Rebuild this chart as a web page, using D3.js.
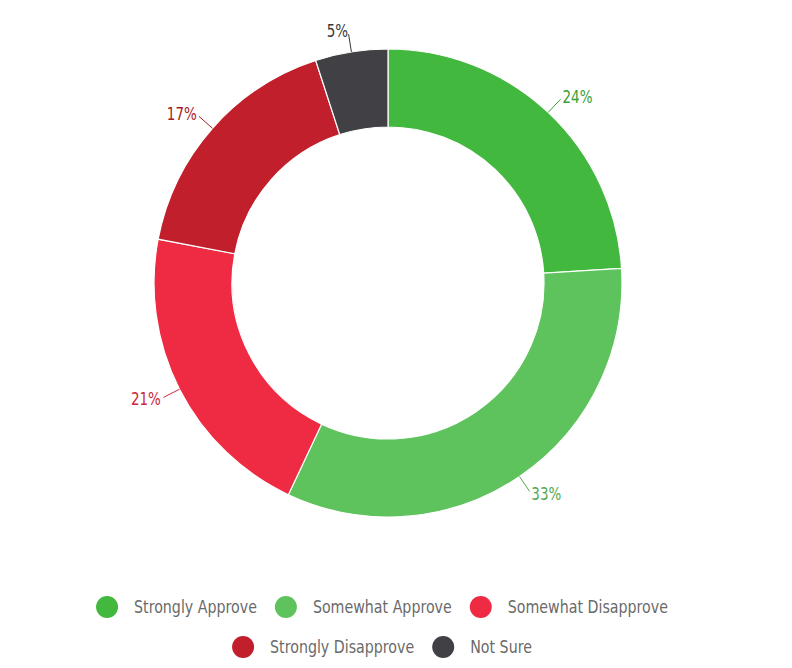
<!DOCTYPE html>
<html>
<head>
<meta charset="utf-8">
<script src="https://cdn.jsdelivr.net/npm/d3@7"></script>
<style>
  body { margin: 0; background: #fff; }
  text { font-family: "DejaVu Sans Condensed", "Liberation Sans", sans-serif; }
</style>
</head>
<body>
<div id="chart"></div>
<script>
// data
var categories = ["Strongly Approve", "Somewhat Approve", "Somewhat Disapprove", "Strongly Disapprove", "Not Sure"];
var values = [24, 33, 21, 17, 5];
var colors = ["#43b83f", "#5ec35c", "#ee2b43", "#c11f2b", "#404045"];

var width = 792, height = 668;
var cx = 388, cy = 283;
var outerR = 234, innerR = 156;
var squeeze = 0.88;       // narrow the label font a bit
var legendSqueeze = 0.93;

var svg = d3.select("#chart")
  .append("svg")
    .attr("width", width)
    .attr("height", height);

var pie = d3.pie().sort(null).value(function(d) { return d; });
var arcs = pie(values);

var arc = d3.arc().innerRadius(innerR).outerRadius(outerR);

var g = svg.append("g")
    .attr("transform", "translate(" + cx + "," + cy + ")");

// slices
g.selectAll("path.slice")
  .data(arcs)
  .enter()
  .append("path")
    .attr("class", "slice")
    .attr("d", arc)
    .attr("fill", function(d, i) { return colors[i]; })
    .attr("stroke", "#fff")
    .attr("stroke-width", 1.2);

// labels with connectors
function polar(a, r) {
  return [Math.sin(a) * r, -Math.cos(a) * r];
}

var labelR = 255;
arcs.forEach(function(d, i) {
  var mid = (d.startAngle + d.endAngle) / 2;
  var p0 = polar(mid, outerR);
  var p1 = polar(mid, labelR - 3);
  var p2 = polar(mid, labelR);
  var right = Math.sin(mid) >= 0;
  var c = d3.color(colors[i]).darker(0.4).formatHex();

  g.append("path")
    .attr("d", d3.line()([p0, p1]))
    .attr("fill", "none")
    .attr("stroke", c)
    .attr("stroke-width", 1);

  g.append("text")
    .attr("transform", "translate(" + p2[0] + "," + p2[1] + ") scale(" + squeeze + ",1)")
    .attr("dy", "0.35em")
    .attr("text-anchor", right ? "start" : "end")
    .attr("fill", c)
    .style("font-size", "17px")
    .text(values[i] + "%");
});

// legend
var legend = svg.append("g").attr("class", "legend");
var maxRowW = 600, symR = 11, textGap = 27, itemGap = 18;
var items = [];
categories.forEach(function(name, i) {
  var it = legend.append("g");
  it.append("circle")
    .attr("r", symR)
    .attr("fill", colors[i]);
  it.append("text")
    .attr("transform", "translate(" + textGap + ",0) scale(" + legendSqueeze + ",1)")
    .attr("dy", "0.35em")
    .attr("fill", "#6a6a6a")
    .style("font-size", "17px")
    .text(name);
  var bb = it.node().getBBox();
  items.push({ g: it, w: bb.width });
});

var rows = [[]], rowW = [0];
items.forEach(function(it) {
  var r = rows.length - 1;
  var add = (rows[r].length ? itemGap : 0) + it.w;
  if (rowW[r] + add > maxRowW && rows[r].length) {
    rows.push([it]); rowW.push(it.w);
  } else {
    rows[r].push(it); rowW[r] += add;
  }
});

var legendCx = 382, rowY = [607, 647];
rows.forEach(function(row, r) {
  var x = legendCx - rowW[r] / 2;
  row.forEach(function(it) {
    it.g.attr("transform", "translate(" + (x + symR) + "," + rowY[r] + ")");
    x += it.w + itemGap;
  });
});
</script>
</body>
</html>
